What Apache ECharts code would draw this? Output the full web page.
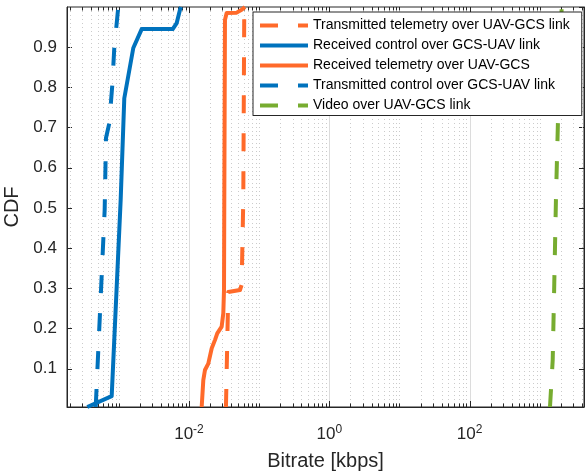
<!DOCTYPE html>
<html>
<head>
<meta charset="utf-8">
<script src="https://cdn.jsdelivr.net/npm/echarts@6/dist/echarts.min.js"></script>
<style>html,body{margin:0;padding:0;background:#fff;}#c{width:585px;height:475px;}</style>
</head>
<body>
<div id="c"></div>
<script>
// ---- data ----
const txTeleX = [0.03365, 0.03631, 0.05331, 0.05633, 0.05943, 0.06138];
const txTeleY = [0.005, 0.291, 0.296, 0.309, 0.52, 1.0];

const rxCtrlX = [3.55e-4, 7.91e-4, 1.062e-3, 1.196e-3, 1.607e-3, 2.117e-3, 5.86e-3, 6.68e-3, 7.44e-3, 7.69e-3];
const rxCtrlY = [0.005, 0.032, 0.520, 0.773, 0.898, 0.945, 0.945, 0.960, 0.993, 1.0];

const rxTeleX = [0.01517, 0.01600, 0.01690, 0.01884, 0.02109, 0.02351, 0.02530, 0.02924, 0.03084, 0.03156, 0.03187, 0.03258, 0.03443, 0.04786, 0.05633, 0.06281];
const rxTeleY = [0.005, 0.072, 0.097, 0.113, 0.151, 0.172, 0.188, 0.205, 0.238, 0.296, 0.520, 0.968, 0.985, 0.986, 0.993, 1.0];

const txCtrlX = [4.68e-4, 6.28e-4, 6.56e-4, 7.31e-4, 8.07e-4, 8.61e-4, 9.82e-4];
const txCtrlY = [0.005, 0.495, 0.674, 0.711, 0.806, 0.898, 1.0];

const videoX = [1400, 1531, 1612, 1705, 1820, 2056];
const videoY = [0.005, 0.122, 0.313, 0.527, 0.717, 1.0];

const seriesNames = [
  'Transmitted telemetry over UAV-GCS link',
  'Received control over GCS-UAV link',
  'Received telemetry over UAV-GCS',
  'Transmitted control over GCS-UAV link',
  'Video over UAV-GCS link'
];

// axis ticks
const majorExps = [-2, 0, 2];
const decades = [-4, -3, -2, -1, 0, 1, 2, 3];
const minorMults = [1, 2, 3, 4, 5, 6, 7, 8, 9];
const xMin = 1.824e-4, xMax = 4276;
const yMin = 0.005, yMax = 1;

const FONT = 'Liberation Sans, Arial, Helvetica, sans-serif';
const INK = '#262626';
const BLUE = '#0072BD', ORANGE = '#FF6A2A', GREEN = '#77AC30';

function zip(xs, ys) { return xs.map((x, i) => [x, ys[i]]); }

const tickData = [];
decades.forEach(d => minorMults.forEach(m => {
  const v = m * Math.pow(10, d);
  if (v > xMin && v < xMax) tickData.push([v, 0.5, (m === 1 && majorExps.includes(d)) ? 1 : 0]);
}));

function renderTicks(params, api) {
  const v = api.value(0), major = api.value(2);
  const b = api.coord([v, yMin]);
  const t = api.coord([v, yMax]);
  const x = Math.round(b[0]) + 0.5;
  const len = major ? 6 : 3.5;
  return {
    type: 'group',
    children: [
      { type: 'line', shape: { x1: x, y1: t[1], x2: x, y2: b[1] },
        style: major ? { stroke: '#dcdcdc', lineWidth: 1 } : { stroke: '#cbcbcb', lineWidth: 1, lineDash: [1, 3] } },
      { type: 'line', shape: { x1: x, y1: b[1], x2: x, y2: b[1] - len }, style: { stroke: INK, lineWidth: 1 } },
      { type: 'line', shape: { x1: x, y1: t[1], x2: x, y2: t[1] + len }, style: { stroke: INK, lineWidth: 1 } }
    ]
  };
}

function lineSeries(name, xs, ys, color, dashed) {
  return {
    name: name, type: 'line', data: zip(xs, ys), showSymbol: false, symbol: 'none',
    z: 3, animation: false,
    lineStyle: { color: color, width: 4, type: dashed ? [18, 20] : 'solid', cap: 'butt', join: 'round' },
    itemStyle: { color: color }
  };
}

const chart = echarts.init(document.getElementById('c'), null, { renderer: 'canvas' });
chart.setOption({
  animation: false,
  backgroundColor: '#fff',
  grid: { left: 67, right: 1, top: 7, bottom: 68, outerBoundsMode: 'none', containLabel: false,
    show: true, borderColor: INK, borderWidth: 1, backgroundColor: 'transparent' },
  xAxis: {
    type: 'log', logBase: 10, min: xMin, max: xMax,
    name: 'Bitrate [kbps]', nameLocation: 'middle', nameGap: 44,
    nameTextStyle: { fontSize: 20, color: INK, fontFamily: FONT },
    axisLine: { show: true, lineStyle: { color: INK, width: 1 } },
    axisTick: { show: false },
    splitLine: { show: false },
    minorTick: { show: false },
    axisLabel: {
      interval: 0, margin: 17, color: INK, fontFamily: FONT,
      formatter: function (v) {
        const e = Math.log10(v);
        const r = Math.round(e);
        if (Math.abs(e - r) > 1e-6 || !majorExps.includes(r)) return '';
        return '{b|10}{s|' + r + '}';
      },
      rich: {
        b: { fontSize: 17, fontFamily: FONT, color: INK, lineHeight: 20 },
        s: { fontSize: 12, fontFamily: FONT, color: INK, verticalAlign: 'top', lineHeight: 12 }
      }
    }
  },
  yAxis: [{
    type: 'value', min: yMin, max: yMax, splitNumber: 10, position: 'left',
    name: 'CDF', nameLocation: 'middle', nameGap: 37,
    nameTextStyle: { fontSize: 20, color: INK, fontFamily: FONT },
    axisLine: { show: true, lineStyle: { color: INK, width: 1 } },
    axisTick: { show: true, inside: true, length: 5, lineStyle: { color: INK } },
    splitLine: { show: false },
    axisLabel: { showMinLabel: false, showMaxLabel: false, margin: 10, fontSize: 17, color: INK, fontFamily: FONT,
      formatter: v => v.toFixed(1) }
  }, {
    type: 'value', min: yMin, max: yMax, splitNumber: 10, position: 'right',
    axisLine: { show: true, lineStyle: { color: INK, width: 1 } },
    axisTick: { show: true, inside: true, length: 5, lineStyle: { color: INK } },
    splitLine: { show: false },
    axisLabel: { show: false }
  }],
  legend: {
    data: seriesNames, orient: 'vertical', left: 253, top: 12,
    padding: [6.5, 12, 3, 5], itemGap: 6, itemWidth: 48, itemHeight: 14,
    backgroundColor: '#fff', borderColor: INK, borderWidth: 1, borderRadius: 0,
    textStyle: { fontSize: 14, color: '#000', fontFamily: FONT },
    itemStyle: { opacity: 0, borderWidth: 0 },
    lineStyle: { width: 4 },
    selectedMode: false
  },
  series: [
    { type: 'custom', name: 'ticks', data: tickData, renderItem: renderTicks, encode: { x: 0, y: 1 }, z: 1, clip: false, silent: true, animation: false },
    lineSeries(seriesNames[0], txTeleX, txTeleY, ORANGE, true),
    lineSeries(seriesNames[1], rxCtrlX, rxCtrlY, BLUE, false),
    lineSeries(seriesNames[2], rxTeleX, rxTeleY, ORANGE, false),
    lineSeries(seriesNames[3], txCtrlX, txCtrlY, BLUE, true),
    lineSeries(seriesNames[4], videoX, videoY, GREEN, true)
  ]
});
</script>
</body>
</html>
